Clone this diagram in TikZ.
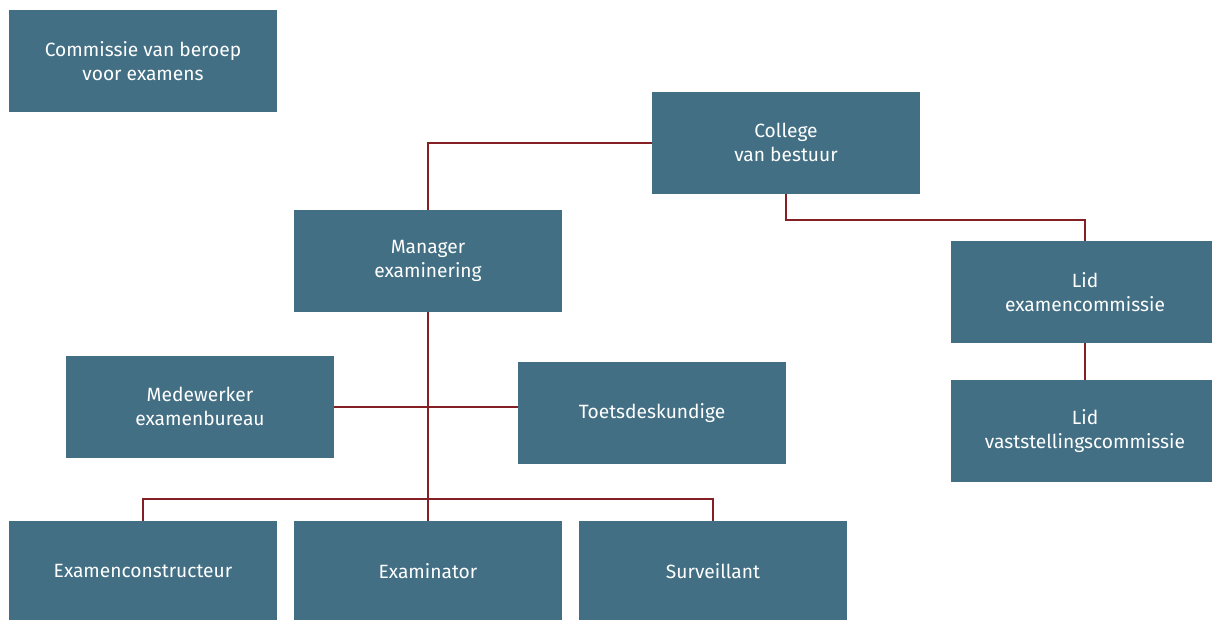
\documentclass[tikz,border=0pt]{standalone}
\usepackage{fontspec}
\setmainfont{Fira Sans}
\definecolor{boxblue}{RGB}{66,111,132}
\definecolor{linkred}{RGB}{132,32,36}
\tikzset{
  orgbox/.style={fill=boxblue, text=white, minimum width=268pt, minimum height=102pt,
    align=center, inner sep=0pt, font=\fontsize{19.2}{24}\selectfont},
  orglink/.style={draw=linkred, line width=2pt}
}
\begin{document}
\begin{tikzpicture}[x=1pt, y=-1pt]
            \useasboundingbox (0,0) rectangle (1212,619);

            % boxes
            \node[orgbox] (commissie) at (143, 61) {Commissie van beroep\\voor examens};
            \node[orgbox] (college) at (786, 142.5) {College\\van bestuur};
            \node[orgbox] (manager) at (428, 261) {Manager\\examinering};
            \node[orgbox] (lidexamen) at (1085, 292) {Lid\\examencommissie};
            \node[orgbox] (lidvast) at (1085, 431) {Lid\\vaststellingscommissie};
            \node[orgbox] (medewerker) at (200, 406.5) {Medewerker\\examenbureau};
            \node[orgbox] (toets) at (652, 413) {Toetsdeskundige};
            \node[orgbox, minimum height=100pt] (constructeur) at (143, 571) {Examenconstructeur};
            \node[orgbox, minimum height=100pt] (examinator) at (428, 571) {Examinator};
            \node[orgbox, minimum height=100pt] (surveillant) at (713, 571) {Surveillant};

            % links
            \draw[orglink] (college.west) -| (manager.north);
            \draw[orglink] (college.south) -- ++(0, 26) -| (lidexamen.north);
            \draw[orglink] (lidexamen.south) -- (lidvast.north);
            \draw[orglink] (manager.south) -- (examinator.north);
            \draw[orglink] (medewerker.east) -- (medewerker.east -| toets.west);
            \draw[orglink] (constructeur.north) -- ++(0, -22) -| (surveillant.north);
        \end{tikzpicture}
\end{document}
